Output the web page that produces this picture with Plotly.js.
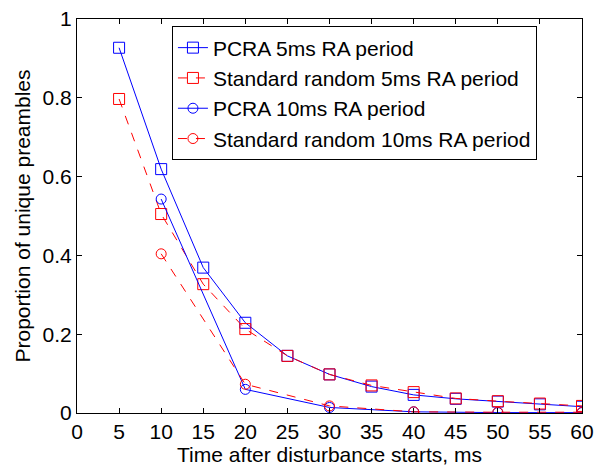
<!DOCTYPE html>
<html><head><meta charset="utf-8">
<script src="https://cdn.plot.ly/plotly-3.0.1.min.js"></script>
<style>html,body{margin:0;padding:0;background:#fff}#chart{width:595px;height:467px}</style>
</head><body><div id="chart"></div>
<script>
const x5 = [5,10,15,20,25,30,35,40,45,50,55,60];
const pcra5 = [0.927,0.619,0.369,0.229,0.145,0.098,0.067,0.046,0.036,0.029,0.022,0.016];
const std5 = [0.797,0.505,0.327,0.213,0.145,0.098,0.070,0.053,0.037,0.030,0.024,0.018];
const x10 = [10,20,30,40,50,60];
const pcra10 = [0.543,0.060,0.014,0.003,0.001,0.001];
const std10 = [0.404,0.073,0.018,0.003,0.002,0.002];
const names = ['PCRA 5ms RA period','Standard random 5ms RA period','PCRA 10ms RA period','Standard random 10ms RA period'];
const xTicks = [0,5,10,15,20,25,30,35,40,45,50,55,60];
const yTicks = [0,0.2,0.4,0.6,0.8,1];
const yTickText = ['0','0.2','0.4','0.6','0.8','1'];

function tr(x,y,name,color,dash,symbol,size){
  return {x:x,y:y,name:name,type:'scatter',mode:'lines+markers',
    line:{color:color,width:1,dash:dash},
    marker:{symbol:symbol,size:size,color:color,line:{color:color,width:1}}};
}
const data = [
  tr(x5,pcra5,names[0],'#0000ff','solid','square-open',11),
  tr(x5,std5,names[1],'#ff0000','dash','square-open',11),
  tr(x10,pcra10,names[2],'#0000ff','solid','circle-open',10),
  tr(x10,std10,names[3],'#ff0000','dash','circle-open',10)
];
const ax = {showline:true,mirror:'ticks',linecolor:'#000',linewidth:1,ticks:'inside',ticklen:5,tickcolor:'#000',
  showgrid:false,zeroline:false,tickfont:{size:21,color:'#000'}};
const layout = {
  width:595,height:467,margin:{l:77,r:13,t:19,b:54},
  paper_bgcolor:'#fff',plot_bgcolor:'#fff',
  font:{family:'Liberation Sans, Arial, sans-serif',color:'#000',size:21},
  xaxis:Object.assign({},ax,{range:[0,60],tickvals:xTicks,ticktext:xTicks.map(String),
    title:{text:'Time after disturbance starts, ms',font:{size:21},standoff:2}}),
  yaxis:Object.assign({},ax,{range:[0,1],tickvals:yTicks,ticktext:yTickText,
    title:{text:'Proportion of unique preambles',font:{size:21},standoff:6}}),
  legend:{x:0.188,y:0.981,xanchor:'left',yanchor:'top',bgcolor:'#fff',bordercolor:'#000',borderwidth:1,
    font:{size:21},tracegroupgap:0,itemwidth:30},
  showlegend:true
};
Plotly.newPlot('chart',data,layout,{displayModeBar:false,staticPlot:true});
</script></body></html>
